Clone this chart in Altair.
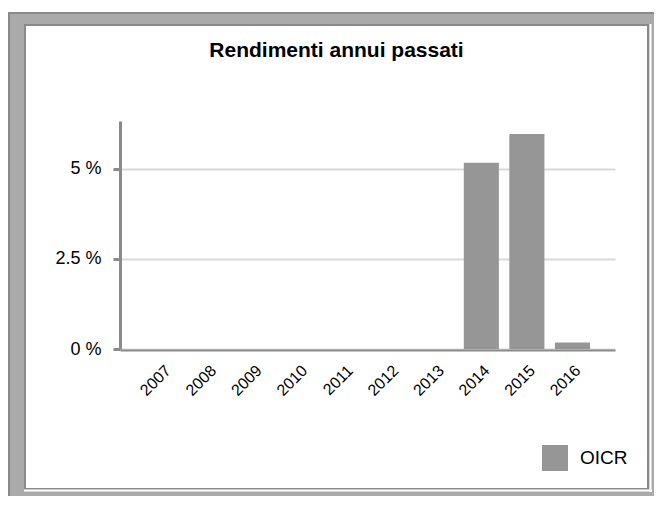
import altair as alt
import pandas as pd

anni = ["2007", "2008", "2009", "2010", "2011", "2012", "2013", "2014", "2015", "2016"]
rendimenti = [0, 0, 0, 0, 0, 0, 0, 5.17, 5.97, 0.18]
serie = ["OICR"] * len(anni)
tick_valori = [0, 2.5, 5]
titolo = "Rendimenti annui passati"

FONT = "Liberation Sans"
GRIGIO_BARRA = "#969696"
GRIGIO_ASSE = "#8a8a8a"

df = pd.DataFrame({"anno": anni, "rendimento": rendimenti, "serie": serie})
deco = pd.DataFrame({"k": [0]})

bars = alt.Chart(df).mark_bar().encode(
    x=alt.X(
        "anno:N", sort=anni,
        scale=alt.Scale(range=[95, 590], paddingInner=0.23, paddingOuter=0.55),
        axis=alt.Axis(title=None, labelAngle=-45, labelAlign="right", labelBaseline="top",
                      labelFontSize=16, labelFont=FONT, labelColor="#000", labelPadding=12,
                      ticks=False, domainColor=GRIGIO_ASSE, domainWidth=2, offset=-139, grid=False),
    ),
    y=alt.Y(
        "rendimento:Q",
        scale=alt.Scale(domain=[0, 6.33], range=[324, 96], nice=False),
        axis=alt.Axis(title=None, values=tick_valori, labelExpr="datum.value + ' %'",
                      labelFontSize=18, labelFont=FONT, labelColor="#000", labelPadding=12,
                      tickSize=7, tickWidth=3, tickColor=GRIGIO_ASSE,
                      domainWidth=3, domainColor=GRIGIO_ASSE, offset=-95,
                      grid=True, gridColor="#d9d9d9", gridWidth=2),
    ),
    color=alt.Color(
        "serie:N", scale=alt.Scale(range=[GRIGIO_BARRA]),
        legend=alt.Legend(title=None, orient="none", legendX=517, legendY=420,
                          symbolType="square", symbolSize=676, symbolStrokeWidth=0,
                          labelFontSize=19, labelOffset=12, labelFont=FONT, labelColor="#000",
                          padding=0),
    ),
)

base = alt.Chart(deco)
top_white = base.mark_rule(color="white", strokeWidth=4).encode(
    x=alt.value(-17), x2=alt.value(640), y=alt.value(-15))
top_dark = base.mark_rule(color=GRIGIO_ASSE, strokeWidth=2).encode(
    x=alt.value(-17), x2=alt.value(640), y=alt.value(-12))
left_dark = base.mark_rule(color=GRIGIO_ASSE, strokeWidth=2).encode(
    x=alt.value(-16), y=alt.value(-13), y2=alt.value(490))
right_white = base.mark_rule(color="white", strokeWidth=2).encode(
    x=alt.value(625.5), y=alt.value(-1), y2=alt.value(467))
bottom_white = base.mark_rule(color="white", strokeWidth=2).encode(
    x=alt.value(-1), x2=alt.value(627), y=alt.value(465.5))

chart = alt.layer(top_white, top_dark, left_dark, right_white, bottom_white, bars).properties(
    width=623, height=464,
    padding={"left": 17, "top": 17, "right": 6, "bottom": 7},
    autosize=alt.AutoSizeParams(type="none"),
    background="#aaaaaa",
    title=alt.TitleParams(titolo, font=FONT, fontSize=21, fontWeight="bold", color="#000",
                          offset=-53, anchor="middle"),
).configure_view(stroke=GRIGIO_ASSE, strokeWidth=2, fill="white")

chart.save("out.html", embed_options={"renderer": "svg", "actions": False})
